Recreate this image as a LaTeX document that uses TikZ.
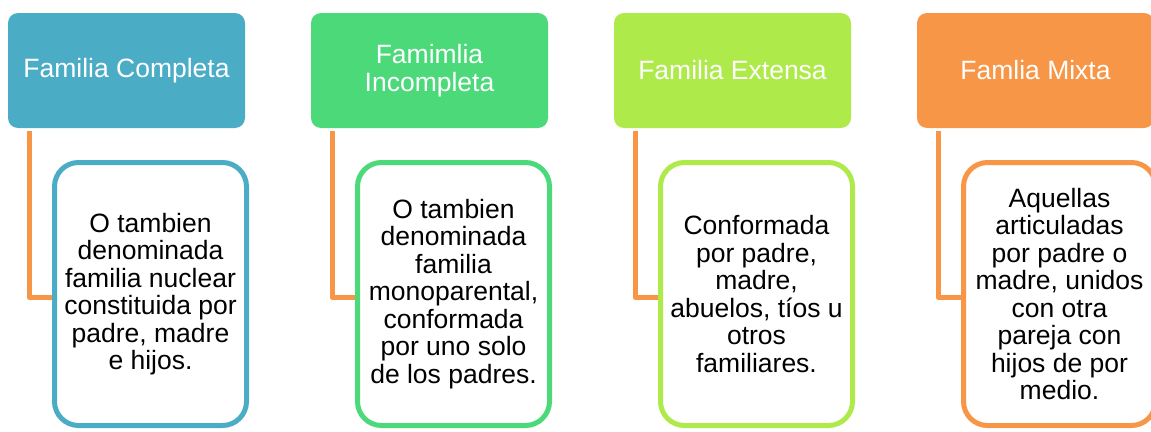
\documentclass[tikz,border=0pt]{standalone}
\usepackage{fontspec}
\setmainfont{Liberation Sans}
\usetikzlibrary{calc}
\definecolor{famblue}{HTML}{4BACC6}
\definecolor{famgreen}{HTML}{4BD97A}
\definecolor{famlime}{HTML}{AEEA4A}
\definecolor{famorange}{HTML}{F79646}

\begin{document}
\begin{tikzpicture}[x=1pt, y=-1pt, thick, line join=round,
  head node/.style={rectangle,rounded corners=10pt,text=white,minimum width=237pt,minimum height=115pt,inner sep=0pt,align=center,font=\fontsize{26.5}{28}\selectfont},
  leaf node/.style={rectangle,rounded corners=24pt,line width=5pt,fill=white,minimum width=192pt,minimum height=263pt,inner sep=0pt,align=center,font=\fontsize{26.5}{27.5}\selectfont},
  link/.style={draw=famorange,line width=5pt}]
  \useasboundingbox (0,0) rectangle (1151,431);

  \node[head node, fill=famblue] (1) at (126.5,70.5) {Familia Completa};
  \node[head node, fill=famgreen] (2) at (429.5,70.5) {Famimlia\\Incompleta};
  \node[head node, fill=famlime] (3) at (732.5,70.5) {Familia Extensa};
  \node[head node, fill=famorange] (4) at (1035.5,70.5) {Famlia Mixta};

  \node[leaf node, draw=famblue] (5) at (150.5,294) {O tambien\\denominada\\familia nuclear\\constituida por\\padre, madre\\e hijos.};
  \node[leaf node, draw=famgreen] (6) at (453.5,294) {O tambien\\denominada\\familia\\monoparental,\\conformada\\por uno solo\\de los padres.};
  \node[leaf node, draw=famlime] (7) at (756.5,294) {Conformada\\por padre,\\madre,\\abuelos, tíos u\\otros\\familiares.};
  \node[leaf node, draw=famorange] (8) at (1059.5,294) {Aquellas\\articuladas\\por padre o\\madre, unidos\\con otra\\pareja con\\hijos de por\\medio.};

  \path[link] ($(1.south west)+(21.5,3)$) |- ($(5.west)+(0,3)$);
  \path[link] ($(2.south west)+(21.5,3)$) |- ($(6.west)+(0,3)$);
  \path[link] ($(3.south west)+(21.5,3)$) |- ($(7.west)+(0,3)$);
  \path[link] ($(4.south west)+(21.5,3)$) |- ($(8.west)+(0,3)$);
\end{tikzpicture}
\end{document}
